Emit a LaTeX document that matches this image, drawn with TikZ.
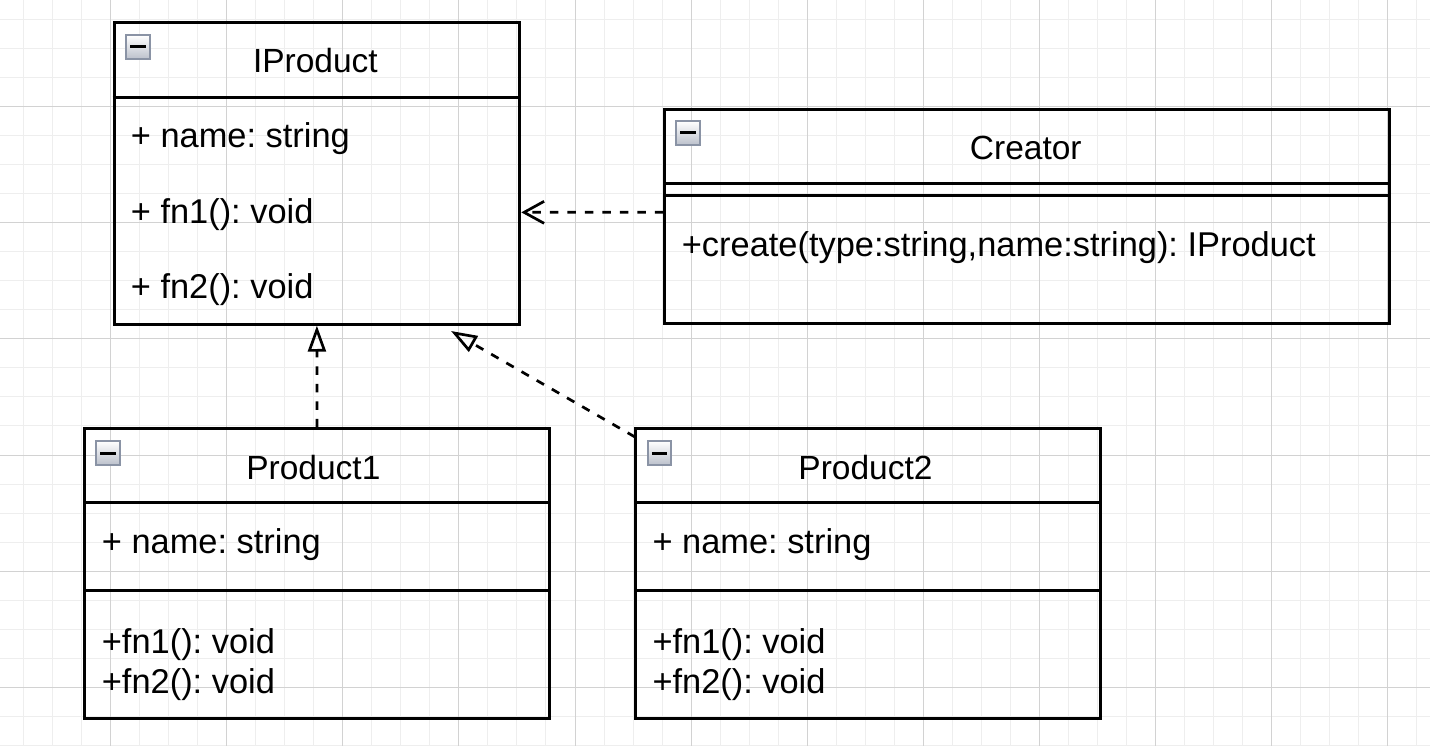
\documentclass[tikz,border=0pt]{standalone}
\usepackage{fontspec}
\setmainfont{Liberation Sans}
\usetikzlibrary{arrows.meta,calc}
\definecolor{gridminor}{RGB}{238,238,238}
\definecolor{gridmajor}{RGB}{210,210,210}
\definecolor{iconborder}{RGB}{138,147,165}
\definecolor{iconbottom}{RGB}{188,193,204}
\frenchspacing
\begin{document}
\begin{tikzpicture}[x=1pt,y=-1pt,
  classbox/.style={draw=black, line width=3pt, rectangle, inner sep=0pt, anchor=north west},
  sepline/.style={draw=black, line width=3pt},
  lbl/.style={inner sep=0pt, font=\fontsize{33.5}{40}\selectfont\frenchspacing, text=black},
  mbr/.style={inner sep=0pt, font=\fontsize{34.4}{40}\selectfont\frenchspacing, text=black, anchor=base west},
  conn/.style={line width=2.7pt, dash pattern=on 8.5pt off 9pt},
  realize/.style={conn, -{Triangle[open, length=26pt, width=18pt]}},
  depend/.style={conn, -{Straight Barb[length=20pt, width=22pt]}},
  minusbox/.style={rectangle, minimum size=23.5pt, inner sep=0pt, draw=iconborder, line width=2pt,
    top color=white, bottom color=iconbottom,
    path picture={\draw[line width=3pt, black] ([xshift=4pt]path picture bounding box.west) -- ([xshift=-4pt]path picture bounding box.east);}}
]
\fill[white] (0,0) rectangle (1430,746);
\useasboundingbox (0,0) rectangle (1430,746);
% grid
\foreach \i in {0,...,50} { \draw[gridminor, line width=1pt] ({-5.5+29.025*\i},0) -- ({-5.5+29.025*\i},746); }
\foreach \i in {0,...,26} { \draw[gridminor, line width=1pt] (0,{-9.4+29.025*\i}) -- (1430,{-9.4+29.025*\i}); }
\foreach \i in {0,...,13} { \draw[gridmajor, line width=1pt] ({-5.5+116.1*\i},0) -- ({-5.5+116.1*\i},746); }
\foreach \i in {0,...,7} { \draw[gridmajor, line width=1pt] (0,{-9.4+116.1*\i}) -- (1430,{-9.4+116.1*\i}); }

% IProduct
\node[classbox, minimum width=405.8pt, minimum height=301.7pt] (iproduct) at (112.5,21) {};
\draw[sepline] (112.5,97.3) -- (518.3,97.3);
\node[minusbox] (iprodicon) at (137.8,47) {};
\node[lbl, anchor=base] (iprodtitle) at (315.4,73) {IProduct};
\node[mbr] (iprodname) at (130.7,148) {+ name: string};
\node[mbr] (iprodfn1) at (130.7,223.3) {+ fn1(): void};
\node[mbr] (iprodfn2) at (130.7,298.5) {+ fn2(): void};

% Creator
\node[classbox, minimum width=725pt, minimum height=214pt] (creator) at (663.3,108.3) {};
\draw[sepline] (663.3,184) -- (1388.3,184);
\draw[sepline] (663.3,196) -- (1388.3,196);
\node[minusbox] (creaticon) at (688,133) {};
\node[lbl, anchor=base] (creattitle) at (1025.8,160) {Creator};
\node[mbr] (creatfn) at (681.7,257) {+create(type:string,name:string): IProduct};

% Product1
\node[classbox, minimum width=464.4pt, minimum height=289.4pt] (prod1) at (83.3,427.3) {};
\draw[sepline] (83.3,502.7) -- (547.7,502.7);
\draw[sepline] (83.3,590.2) -- (547.7,590.2);
\node[minusbox] (p1icon) at (108.2,453) {};
\node[lbl, anchor=base] (p1title) at (313.4,479) {Product1};
\node[mbr] (p1name) at (101.7,553.3) {+ name: string};
\node[mbr] (p1fn1) at (101.7,653.2) {+fn1(): void};
\node[mbr] (p1fn2) at (101.7,693.3) {+fn2(): void};

% Product2
\node[classbox, minimum width=465pt, minimum height=289.4pt] (prod2) at (634,427.3) {};
\draw[sepline] (634,502.7) -- (1099,502.7);
\draw[sepline] (634,590.2) -- (1099,590.2);
\node[minusbox] (p2icon) at (659.5,453) {};
\node[lbl, anchor=base] (p2title) at (865.5,479) {Product2};
\node[mbr] (p2name) at (652.3,553.3) {+ name: string};
\node[mbr] (p2fn1) at (652.3,653.2) {+fn1(): void};
\node[mbr] (p2fn2) at (652.3,693.3) {+fn2(): void};

% connectors
\coordinate (p2start) at (635,437);
\coordinate (p2tip) at (451,331);
\draw[realize] (prod1.north) -- (iproduct.south);
\draw[realize] (p2start) -- (p2tip);
\draw[depend] ([yshift=4.5pt]creator.west) -- ([yshift=-39pt]iproduct.east);
\end{tikzpicture}
\end{document}
